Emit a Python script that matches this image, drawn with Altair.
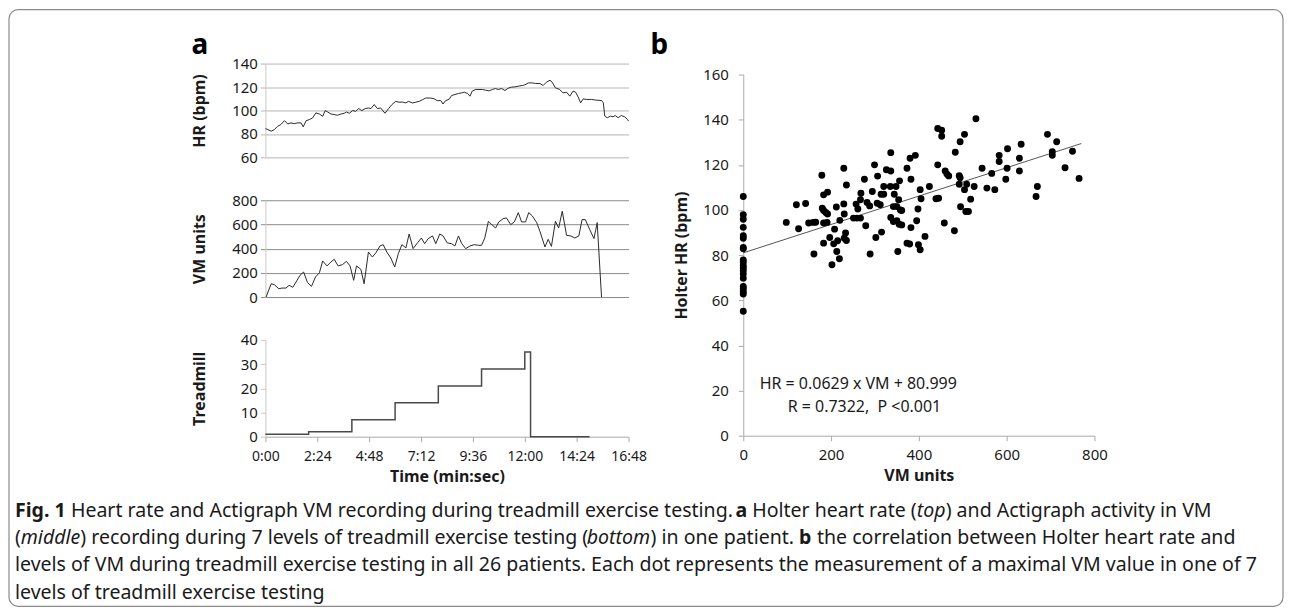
import altair as alt
import pandas as pd

FONT = "Noto Sans"

# ---------------- Panel a data (time in seconds) ----------------
hr_time = [0, 7, 16, 25, 34, 43, 53, 62, 71, 80, 90, 99, 105, 113, 122, 131, 140, 150, 159, 166,
           173, 182, 191, 200, 210, 219, 225, 233, 242, 251, 259, 268, 277, 286, 293, 302, 311, 320, 332, 342,
           351, 362, 371, 380, 390, 397, 408, 417, 427, 436, 445, 459, 468, 477, 487, 493, 500, 510,
           517, 526, 536, 545, 552, 561, 568, 574, 584, 593, 602, 611, 621, 630, 639, 646, 656, 665, 674, 683,
           693, 702, 713, 720, 730, 741, 750, 762, 771, 780, 790, 796, 805, 817, 826, 836, 845, 854, 861, 868,
           875, 882, 891, 905, 919, 933, 938, 942, 949, 958, 965, 971, 979, 988, 997, 1005, 1008]
hr_bpm = [84.5, 83.7, 82.3, 83.7, 86.5, 88, 91.3, 88.5, 89.4, 88.8, 89.4, 89.4, 86, 91.3, 92.2, 93.6, 97.9, 97, 95, 99.9,
          98.7, 97, 96.5, 95.9, 97, 97.6, 98.7, 97.6, 99.9, 99.3, 101.6, 99.9, 101.6, 102.1, 101.6, 105, 101.6, 102.1, 97.6, 101.6,
          105, 107.8, 107, 107.2, 106.4, 107.8, 106.4, 107, 107.8, 109.2, 110.6, 110.6, 110, 108.4, 108.4, 105.5, 108.4, 109.5,
          112.8, 113.6, 114.5, 115, 115.6, 114.5, 112.2, 116.5, 117.9, 117.9, 117.9, 117.3, 116.7, 117.9, 118.7, 117.9, 118.7, 117, 119, 119.9,
          120.1, 120.7, 121.3, 121.8, 123.5, 123.5, 123, 123, 121.3, 124.1, 125.8, 124.1, 119.3, 117.9, 115, 115.6, 112.2, 116.5, 115.6, 111.6,
          106.5, 109.9, 109.4, 109.4, 108.8, 108.5, 106.5, 95.2, 93.8, 95.2, 94.6, 95.7, 93.8, 95.7, 94.6, 92.3, 91]

vm_time = [2, 16, 25, 37, 46, 57, 66, 76, 85, 96, 106, 117, 128, 139, 150, 159, 171, 182, 191, 202,
           214, 225, 235, 245, 253, 265, 274, 286, 297, 307, 318, 327, 337, 348, 359, 369, 379, 390, 399, 410,
           422, 433, 442, 452, 464, 473, 484, 493, 505,
           517, 526, 536, 545, 556, 568, 580, 591, 600, 609, 619, 628, 639, 648, 660, 669, 681, 691, 702, 711,
           722, 731, 741, 753, 762, 768, 776, 785, 794, 805, 814, 824, 836, 848, 859, 870, 879, 888, 900, 912, 921, 933]
vm_units = [0, 110, 102, 69, 74, 74, 97, 80, 124, 179, 207, 119, 88, 166, 201, 298, 257, 290, 312, 257,
            268, 295, 257, 138, 257, 229, 110, 372, 331, 367, 422, 433, 372, 323, 248, 359, 433, 406, 521, 400,
            447, 488, 441, 483, 505, 441, 521, 505, 447,
            441, 422, 505, 441, 400, 422, 433, 428, 428, 488, 626, 599, 571, 621, 648, 654, 599, 621, 698, 621,
            621, 698, 670, 615, 544, 488, 414, 477, 419, 626, 571, 709, 510, 505, 488, 505, 640, 640, 560, 483, 615, 0]

tm_time = [0, 120, 240, 360, 480, 600, 720, 736, 900]
tm_level = [1, 2, 7, 14, 21, 28, 35, 0, 0]

time_ticks = [0, 144, 288, 432, 576, 720, 864, 1008]

# ---------------- Panel b data ----------------
sc_vm = [0] * 20 + [
    98, 121, 126, 142, 149, 159, 165, 161, 179, 180,
    183, 192, 183, 188, 192, 183, 191, 183, 197, 202,
    208, 206, 212, 213, 219, 215, 220, 229, 229, 230,
    235, 233, 235, 230, 251, 259, 267, 257, 261, 267,
    268, 276, 279, 282, 288, 289, 294, 299, 306, 302,
    305, 312, 315, 320, 320, 314, 326, 336, 336, 335,
    348, 344, 356, 342, 350, 354, 358, 361, 336, 342,
    350, 355, 361, 352, 373, 380, 392, 382, 373, 379,
    382, 395, 398, 403, 405, 399, 403, 414, 424, 439,
    445, 443, 458, 460, 464, 468, 481, 483, 492, 494,
    492, 495, 504, 509, 507, 513, 518, 526, 544, 555,
    566, 573, 583, 583, 598, 601, 602, 629, 629, 633,
    667, 670,
    443, 452, 452, 494, 504, 530, 693, 714, 704, 704, 733, 750, 765]
sc_hr = [106, 97.9, 95.9, 92.3, 88.6, 87.5, 83.4, 82.8, 77.9, 76.9,
         75.4, 74.3, 73.1, 71.6, 69.8, 66.1, 65.1, 63.9, 62.8, 55.1] + [
    94.5, 102.3, 91.7, 102.9, 94.2, 94.5, 94.6, 80.5, 115.4, 100.8,
    106.7, 107.9, 99.8, 98.9, 98.2, 94.2, 94.5, 85.3, 87.8, 75.7,
    91.5, 85, 101.3, 81.6, 78.4, 86.4, 95.4, 118.5, 102.7, 98.2,
    111.1, 89.8, 86.5, 87.5, 96.4, 96.4, 96.4, 102.6, 100.4, 104.5,
    107.4, 113.6, 93, 103.3, 101.8, 80.5, 108.2, 120, 115, 87.8,
    103, 102.3, 90.2, 110.4, 107, 107, 117.8, 117.3, 125.4, 110.4,
    110.4, 107, 112.9, 101.5, 101.5, 104.5, 100, 99.8, 96.7, 94.9,
    95.2, 93.7, 93.4, 81.6, 118.5, 122.9, 124.2, 113.6, 85.3, 84.9,
    92.2, 95.2, 100.4, 109, 105, 84.6, 82.4, 88.3, 110.4, 105,
    105.2, 120, 94.2, 117.3, 115.9, 115.1, 90.8, 125.6, 115.2, 114.3,
    111.4, 101.4, 109, 111.4, 99.3, 99.3, 104.8, 110.4, 118.5, 109.7,
    116.2, 109, 121.5, 124.2, 113.6, 118.5, 127.1, 122.9, 117.3, 129.1,
    106, 110.4,
    136.1, 135.3, 132.7, 130.2, 133.5, 140.4, 133.5, 130.2, 125.8, 124.2, 118.7, 126, 114]

fit_slope = 0.0629
fit_intercept = 80.999
fit_range = [0, 770]
eq_text = "HR = 0.0629 x VM + 80.999"
r_text = "R = 0.7322, \u00a0P <0.001"

caption_lines = [
    [("Fig. 1", "b"), (" Heart rate and Actigraph VM recording during treadmill exercise testing. ", "n"),
     ("a", "b"), (" Holter heart rate (", "n"), ("top", "i"), (") and Actigraph activity in VM", "n")],
    [("(", "n"), ("middle", "i"), (") recording during 7 levels of treadmill exercise testing (", "n"),
     ("bottom", "i"), (") in one patient. ", "n"), ("b", "b"),
     (" the correlation between Holter heart rate and", "n")],
    [("levels of VM during treadmill exercise testing in all 26 patients. Each dot represents the "
      "measurement of a maximal VM value in one of 7", "n")],
    [("levels of treadmill exercise testing", "n")],
]

# ---------------- Frames ----------------
hr_df = pd.DataFrame({"t": hr_time, "v": hr_bpm})
vm_df = pd.DataFrame({"t": vm_time, "v": vm_units})
tm_df = pd.DataFrame({"t": tm_time, "v": tm_level})
sc_df = pd.DataFrame({"vm": sc_vm, "hr": sc_hr})
fit_df = pd.DataFrame({"vm": fit_range, "hr": [fit_intercept + fit_slope * v for v in fit_range]})
one = pd.DataFrame({"k": [0]})

TXT = "#1a1a1a"
xs_time = alt.Scale(domain=[0, 1008], nice=False, zero=False)
time_label = "floor(datum.value/60) + ':' + (datum.value % 60 < 10 ? '0' : '') + (datum.value % 60)"


def left_axis(title, values, grid, grid_color="#b3b3b3"):
    kw = dict(title=title, values=values, grid=grid, domainColor="#c8c8c8", tickColor=grid_color,
              tickSize=5, labelPadding=3, titleX=-66, titleAngle=270, titleAlign="center",
              titleBaseline="middle", labelFlush=False, labelOverlap=False)
    if grid:
        kw["gridColor"] = grid_color
    return alt.Axis(**kw)


def panel_label(letter, dx):
    return alt.Chart(one).mark_text(text=letter, font=FONT, fontSize=28, fontWeight="bold", color="#000000",
                                    align="left", baseline="alphabetic").encode(
        x=alt.value(dx), y=alt.value(-10))


hr_line = alt.Chart(hr_df).mark_line(color="#2a2a2a", strokeWidth=1).encode(
    x=alt.X("t:Q", scale=xs_time, axis=None),
    y=alt.Y("v:Q", scale=alt.Scale(domain=[60, 140], nice=False, zero=False),
            axis=left_axis("HR (bpm)", [60, 80, 100, 120, 140], True, "#b5b5b5")),
)
hr_chart = alt.layer(hr_line, panel_label("a", -74)).properties(width=364, height=94)

vm_chart = alt.Chart(vm_df).mark_line(color="#2a2a2a", strokeWidth=1).encode(
    x=alt.X("t:Q", scale=xs_time, axis=None),
    y=alt.Y("v:Q", scale=alt.Scale(domain=[0, 800], nice=False),
            axis=left_axis("VM units", [0, 200, 400, 600, 800], True, "#8a8a8a")),
).properties(width=364, height=97)

tm_chart = alt.Chart(tm_df).mark_line(color="#4a4a4a", strokeWidth=1.5, interpolate="step-after").encode(
    x=alt.X("t:Q", scale=xs_time,
            axis=alt.Axis(title="Time (min:sec)", values=time_ticks, labelExpr=time_label, grid=False,
                          domainColor="#aaaaaa", tickColor="#aaaaaa", tickSize=5, labelPadding=8,
                          titleY=40, titleBaseline="middle", labelFlush=False, labelOverlap=False,
                          labelFontSize=14)),
    y=alt.Y("v:Q", scale=alt.Scale(domain=[0, 40], nice=False),
            axis=left_axis("Treadmill", [0, 10, 20, 30, 40], False, "#c8c8c8")),
).properties(width=364, height=97)

# nested concat children count as zero size in a flush layout, so spacing carries the panel size
LEFT_W, LEFT_H = 364, 94 + 43 + 97 + 43 + 97
left_col = alt.vconcat(hr_chart, vm_chart, tm_chart, spacing=43, bounds="flush")

xs_vm = alt.Scale(domain=[0, 800], nice=False)
ys_hr = alt.Scale(domain=[0, 160], range=[373, 11], nice=False)

sc_points = alt.Chart(sc_df).mark_circle(size=48, color="#000000", opacity=1).encode(
    x=alt.X("vm:Q", scale=xs_vm,
            axis=alt.Axis(title="VM units", values=[0, 200, 400, 600, 800], grid=False, domainColor="#aaaaaa",
                          tickColor="#aaaaaa", tickSize=5, labelPadding=7, titleY=40, titleBaseline="middle",
                          labelFlush=False, labelOverlap=False)),
    y=alt.Y("hr:Q", scale=ys_hr,
            axis=alt.Axis(title="Holter HR (bpm)", values=list(range(0, 161, 20)), grid=False,
                          domainColor="#aaaaaa", tickColor="#aaaaaa", tickSize=5, labelPadding=10,
                          titleX=-62, titleAngle=270, titleAlign="center", titleBaseline="middle",
                          labelFlush=False, labelOverlap=False)),
)
fit_line = alt.Chart(fit_df).mark_line(color="#555555", strokeWidth=1).encode(x="vm:Q", y="hr:Q")
eq1 = alt.Chart(one).mark_text(text=eq_text, font=FONT, fontSize=16, color=TXT, align="center",
                               baseline="middle").encode(x=alt.datum(262), y=alt.datum(23))
eq2 = alt.Chart(one).mark_text(text=r_text, font=FONT, fontSize=16, color=TXT, align="center",
                               baseline="middle").encode(x=alt.datum(276), y=alt.datum(12.5))

scatter = alt.layer(fit_line, sc_points, eq1, eq2, panel_label("b", -93)).properties(width=352, height=373)

top_row = alt.hconcat(left_col, scatter, spacing=LEFT_W + 115, bounds="flush")

# ---------------- Caption ----------------
W = {" ": .260, "a": .556, "b": .613, "c": .476, "d": .613, "e": .561, "f": .339, "g": .548, "h": .614,
     "i": .253, "j": .253, "k": .525, "l": .253, "m": .930, "n": .614, "o": .604, "p": .613, "q": .613,
     "r": .408, "s": .477, "t": .353, "u": .614, "v": .501, "w": .778, "x": .524, "y": .502, "z": .477,
     "A": .633, "E": .556, "F": .516, "H": .738, "M": .905, "R": .604, "V": .596, "W": .929,
     ".": .266, ",": .244, "(": .295, ")": .295}


def em_width(s, st):
    w = sum(W.get(ch, .572) for ch in s) * 1.006
    if st == "b":
        w *= 1.07
    elif st == "i":
        w *= 0.94
    return w


cap_fs = 1245.0 / em_width(caption_lines[2][0][0], "n")
cap_x0 = -251
cap_rows = []
for li, segs in enumerate(caption_lines):
    xpos = 0.0
    for s, st in segs:
        lead = len(s) - len(s.lstrip(" "))
        stripped = s.strip(" ")
        x_here = xpos + em_width(" " * lead, "n") * cap_fs
        cap_rows.append({"text": stripped, "st": st, "x": cap_x0 + x_here, "y": 20 + li * 27.5})
        xpos += em_width(s, st) * cap_fs
cap_df = pd.DataFrame(cap_rows)

cap_layers = []
for st, weight, style in [("n", "normal", "normal"), ("b", "bold", "normal"), ("i", "normal", "italic")]:
    cap_layers.append(
        alt.Chart(cap_df).transform_filter(alt.datum.st == st).mark_text(
            align="left", baseline="middle", font=FONT, fontSize=cap_fs, fontWeight=weight,
            fontStyle=style, color=TXT).encode(
            x=alt.X("x:Q", scale=None, axis=None), y=alt.Y("y:Q", scale=None, axis=None), text="text:N"))

frame = alt.Chart(one).mark_rect(fill="white", fillOpacity=0, stroke="#8a8a8a", strokeWidth=1.2,
                                 cornerRadius=9).encode(
    x=alt.value(-257), x2=alt.value(1020), y=alt.value(-482), y2=alt.value(116))

caption = alt.layer(frame, *cap_layers).properties(width=1000, height=110)

chart = alt.vconcat(top_row, caption, spacing=LEFT_H + 54, bounds="flush").properties(
    padding=0, background="white"
).configure_view(strokeWidth=0).configure_axis(
    labelFont=FONT, titleFont=FONT, labelFontSize=15, titleFontSize=16, titleFontWeight="bold",
    labelColor=TXT, titleColor=TXT
)

chart.save("out.html", embed_options={"renderer": "svg", "actions": False})
